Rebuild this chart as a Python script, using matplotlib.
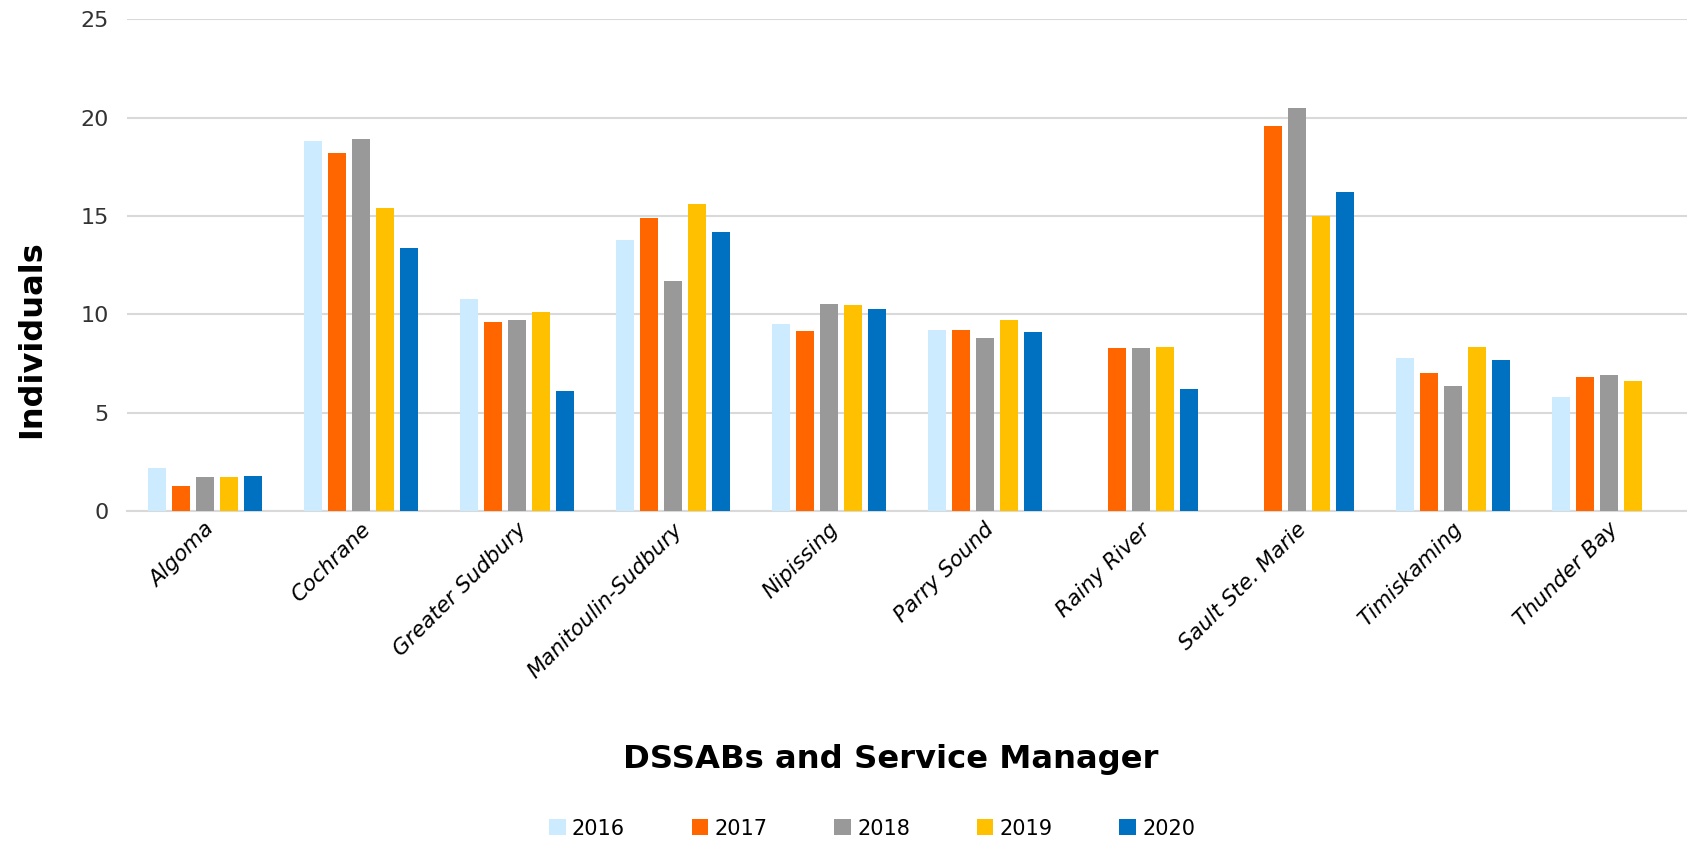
import numpy as np
import matplotlib
matplotlib.use("Agg")
import matplotlib.pyplot as plt

# data
regions = ["Algoma", "Cochrane", "Greater Sudbury", "Manitoulin-Sudbury", "Nipissing",
           "Parry Sound", "Rainy River", "Sault Ste. Marie", "Timiskaming", "Thunder Bay"]
years = ["2016", "2017", "2018", "2019", "2020"]

v2016 = [2.2, 18.8, 10.8, 13.8, 9.5, 9.2, np.nan, np.nan, 7.8, 5.8]
v2017 = [1.3, 18.2, 9.6, 14.9, 9.15, 9.2, 8.3, 19.6, 7.0, 6.8]
v2018 = [1.75, 18.9, 9.7, 11.7, 10.55, 8.8, 8.3, 20.5, 6.35, 6.9]
v2019 = [1.75, 15.4, 10.1, 15.6, 10.5, 9.7, 8.35, 15.0, 8.35, 6.6]
v2020 = [1.8, 13.4, 6.1, 14.2, 10.25, 9.1, 6.2, 16.2, 7.7, np.nan]

colors = ["#CCEBFF", "#FF6600", "#999999", "#FFC000", "#0070C0"]

plt.rcParams['font.family'] = ['DejaVu Sans']

fig = plt.figure(figsize=(16.87, 8.42), dpi=100)
ax = fig.add_axes([0.0753, 0.393, 0.9247, 0.584])

x = np.arange(len(regions))
step = 0.154
width = 0.12
series = [v2016, v2017, v2018, v2019, v2020]
for i, (vals, c, yr) in enumerate(zip(series, colors, years)):
    ax.bar(x + (i - 2) * step, vals, width, color=c, label=yr, zorder=3)

ax.set_xlim(-0.5, len(regions) - 0.5)
ax.set_ylim(0, 25)
ax.set_yticks([0, 5, 10, 15, 20, 25])
ax.grid(axis="y", color="#d9d9d9", linewidth=1.5, zorder=0)
for s in ["top", "right", "left"]:
    ax.spines[s].set_visible(False)
ax.spines["bottom"].set_color("#d9d9d9")
ax.spines["bottom"].set_linewidth(1.5)
ax.tick_params(axis="y", length=0, labelsize=16, labelcolor="#333333", pad=13)
ax.tick_params(axis="x", length=0, pad=11)
ax.set_xticks(x)
ax.set_xticklabels(regions, rotation=45, ha="right", va="center", rotation_mode="anchor",
                   fontsize=15.5, fontstyle="italic")
# nudge category labels a little to the right like the original
import matplotlib.transforms as mtransforms
offset = mtransforms.ScaledTranslation(6 / 100, 0, fig.dpi_scale_trans)
for lab in ax.get_xticklabels():
    lab.set_transform(lab.get_transform() + offset)

fig.text(0.019, 0.597, "Individuals", rotation=90, ha="center", va="center",
         fontsize=23, fontweight="bold")
fig.text(0.528, 0.098, "DSSABs and Service Manager", ha="center", va="center",
         fontsize=23.2, fontweight="bold")

fig.legend(loc="center", bbox_to_anchor=(0.517, 0.016), ncol=5, frameon=False,
           fontsize=15, handlelength=0.8, handleheight=0.8, handletextpad=0.3,
           columnspacing=3.2)

fig.savefig("out.png", dpi=100)
